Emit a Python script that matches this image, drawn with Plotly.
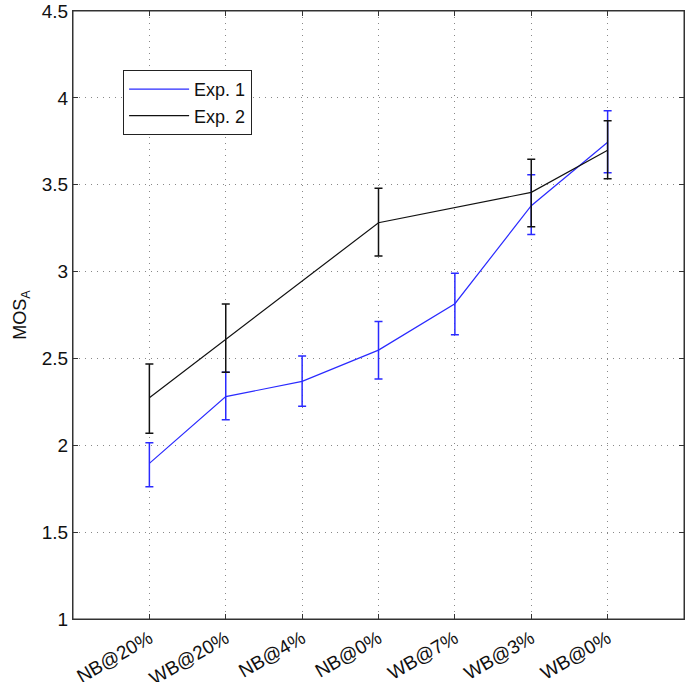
import plotly.graph_objects as go

categories = ["NB@20%", "WB@20%", "NB@4%", "NB@0%", "WB@7%", "WB@3%", "WB@0%"]

exp1_x = ["NB@20%", "WB@20%", "NB@4%", "NB@0%", "WB@7%", "WB@3%", "WB@0%"]
exp1_mean = [1.896, 2.280, 2.368, 2.548, 2.815, 3.379, 3.744]
exp1_upper = [2.015, 2.420, 2.514, 2.713, 2.990, 3.558, 3.926]
exp1_lower = [1.761, 2.147, 2.224, 2.381, 2.637, 3.214, 3.569]

exp2_x = ["NB@20%", "WB@20%", "NB@0%", "WB@3%", "WB@0%"]
exp2_mean = [2.274, 2.610, 3.281, 3.456, 3.698]
exp2_upper = [2.468, 2.813, 3.479, 3.646, 3.868]
exp2_lower = [2.070, 2.420, 3.090, 3.258, 3.535]

y_ticks = [1, 1.5, 2, 2.5, 3, 3.5, 4, 4.5]
y_ticktext = ["1", "1.5", "2", "2.5", "3", "3.5", "4", "4.5"]

FONT = "Liberation Sans, Arial, Helvetica, sans-serif"


def err(mean, up, lo):
    plus = [u - m for u, m in zip(up, mean)]
    minus = [m - l for m, l in zip(mean, lo)]
    return plus, minus


p1, m1 = err(exp1_mean, exp1_upper, exp1_lower)
p2, m2 = err(exp2_mean, exp2_upper, exp2_lower)

fig = go.Figure()
fig.add_trace(go.Scatter(
    x=exp1_x, y=exp1_mean, mode="lines", name="Exp. 1",
    line=dict(color="#2a2aff", width=1.2),
    error_y=dict(type="data", symmetric=False, array=p1, arrayminus=m1,
                 color="#2a2aff", thickness=1.5, width=4),
))
fig.add_trace(go.Scatter(
    x=exp2_x, y=exp2_mean, mode="lines", name="Exp. 2",
    line=dict(color="#111111", width=1.2),
    error_y=dict(type="data", symmetric=False, array=p2, arrayminus=m2,
                 color="#111111", thickness=1.5, width=4),
))

axis_common = dict(
    showline=True, linecolor="#333333", linewidth=1, mirror="ticks",
    ticks="inside", ticklen=5, tickcolor="#333333",
    showgrid=True, gridcolor="#888888", griddash="1px,5px", gridwidth=1,
    zeroline=False, automargin=False,
    tickfont=dict(family=FONT, size=19, color="#111111"),
)

fig.update_xaxes(
    type="category", categoryorder="array", categoryarray=categories,
    range=[-1, 7], tickangle=-30, **axis_common,
)
fig.update_yaxes(
    range=[1, 4.5], tickvals=y_ticks, ticktext=y_ticktext,
    title=dict(text="MOS<sub>A</sub>", font=dict(family=FONT, size=18, color="#111111"),
               standoff=10),
    **axis_common,
)

# frame around the plotting area (MATLAB-style box)
fig.add_shape(type="rect", xref="paper", yref="paper", x0=0, y0=0, x1=1, y1=1,
              line=dict(color="#333333", width=1), layer="above")

fig.update_layout(
    width=685, height=682,
    margin=dict(l=73, r=1, t=11, b=63),
    paper_bgcolor="white", plot_bgcolor="white",
    showlegend=True, hovermode=False,
    legend=dict(
        x=0.082, y=0.903, xanchor="left", yanchor="top",
        bordercolor="#222222", borderwidth=1, bgcolor="white",
        font=dict(family=FONT, size=18, color="#111111"),
        itemwidth=60, tracegroupgap=0,
    ),
    font=dict(family=FONT),
)

# remove the page's default body margin so the figure sits at the window's corner
fig.write_html("out.html", config={"displayModeBar": False},
               post_script="document.body.style.margin='0';")
